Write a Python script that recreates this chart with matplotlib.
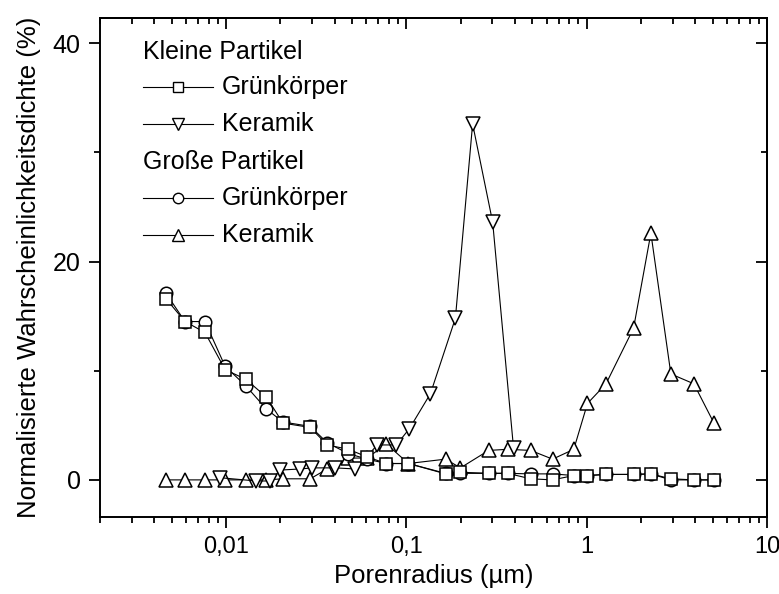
import matplotlib
matplotlib.use("Agg")
import matplotlib.pyplot as plt
from matplotlib.lines import Line2D
from matplotlib.ticker import FixedLocator, FuncFormatter, LogLocator, NullFormatter

plt.rcParams["font.family"] = ["Liberation Sans", "DejaVu Sans"]

# Porenradius (µm) der gemeinsamen Messpunkte
radius = [0.00464, 0.00592, 0.00764, 0.00988, 0.0129, 0.0167, 0.0207, 0.0293,
          0.0364, 0.0477, 0.0607, 0.0774, 0.1026, 0.165, 0.1995, 0.286, 0.364,
          0.489, 0.647, 0.848, 1.01, 1.28, 1.82, 2.27, 2.93, 3.93, 5.08]

# Kleine Partikel, Grünkörper
klein_gruen = [16.6, 14.5, 13.5, 10.1, 9.2, 7.6, 5.2, 4.8, 3.2, 2.8, 2.1, 1.5,
               1.5, 0.55, 0.7, 0.6, 0.6, 0.1, 0.0, 0.4, 0.4, 0.5, 0.5, 0.55,
               0.1, 0.0, 0.0]

# Große Partikel, Grünkörper
gross_gruen = [17.1, 14.5, 14.5, 10.4, 8.6, 6.5, 5.3, 4.9, 3.4, 2.4, 1.9, 1.5,
               1.5, 0.6, 0.6, 0.6, 0.6, 0.55, 0.55, 0.4, 0.4, 0.5, 0.5, 0.55,
               0.0, 0.0, 0.0]

# Große Partikel, Keramik
gross_keramik = [0.0, 0.0, 0.0, 0.0, 0.0, 0.0, 0.1, 0.1, 1.0, 2.0, 2.0, 3.3,
                 1.5, 1.9, 1.1, 2.7, 2.8, 2.7, 1.9, 2.8, 7.0, 8.8, 13.9, 22.6,
                 9.7, 8.8, 5.2]

# Kleine Partikel, Keramik (eigene Radienstufen)
radius_klein_keramik = [0.00926, 0.0147, 0.0176, 0.020, 0.0258, 0.0301, 0.0403,
                        0.0521, 0.069, 0.088, 0.104, 0.136, 0.187, 0.233,
                        0.301, 0.393]
klein_keramik = [0.2, -0.1, -0.1, 0.9, 1.0, 1.1, 1.1, 1.0, 3.2, 3.2, 4.7, 7.9,
                 14.8, 32.6, 23.6, 2.9]

x_ticks = [0.01, 0.1, 1, 10]
x_ticklabels = ["0,01", "0,1", "1", "10"]
y_ticks = [0, 20, 40]

fig = plt.figure(figsize=(7.79, 5.94), dpi=100)
ax = fig.add_axes([0.1284, 0.1296, 0.8562, 0.8401])

line_kw = dict(color="black", lw=0.8, markerfacecolor="white",
               markeredgecolor="black", markeredgewidth=1.1)

ax.plot(radius, gross_keramik, marker="^", ms=10.5, zorder=3, **line_kw)
ax.plot(radius_klein_keramik, klein_keramik, marker="v", ms=10.5, zorder=3, **line_kw)
ax.plot(radius, gross_gruen, marker="o", ms=9, zorder=4, **line_kw)
ax.plot(radius, klein_gruen, marker="s", ms=8.5, zorder=4, **line_kw)

ax.set_xscale("log")
ax.set_xlim(0.002, 10)
ax.set_ylim(-3.4, 42.3)

ax.xaxis.set_major_locator(FixedLocator(x_ticks))
ax.xaxis.set_major_formatter(FuncFormatter(
    lambda v, p: dict(zip(x_ticks, x_ticklabels)).get(v, "")))
ax.xaxis.set_minor_locator(LogLocator(base=10, subs=range(2, 10), numticks=20))
ax.xaxis.set_minor_formatter(NullFormatter())
ax.yaxis.set_major_locator(FixedLocator(y_ticks))
ax.yaxis.set_minor_locator(FixedLocator([10, 30]))

for s in ax.spines.values():
    s.set_linewidth(1.4)

ax.tick_params(axis="both", which="both", width=1.3)
ax.tick_params(axis="y", labelsize=18)
ax.tick_params(axis="x", labelsize=17)
ax.tick_params(axis="both", which="major", length=8, pad=6)
ax.tick_params(axis="both", which="minor", length=4.5)
ax.tick_params(axis="x", which="both", direction="out", bottom=True, top=False)
ax.tick_params(axis="y", which="both", direction="out", left=True, right=False)

# innen liegende Striche an oberer und rechter Achse
top = ax.secondary_xaxis("top")
top.xaxis.set_major_locator(FixedLocator(x_ticks))
top.xaxis.set_minor_locator(LogLocator(base=10, subs=range(2, 10), numticks=20))
top.xaxis.set_major_formatter(NullFormatter())
top.xaxis.set_minor_formatter(NullFormatter())
top.tick_params(which="both", direction="in", width=1.3)
top.tick_params(which="major", length=8)
top.tick_params(which="minor", length=4.5)
top.spines["top"].set_linewidth(1.4)

right = ax.secondary_yaxis("right")
right.yaxis.set_major_locator(FixedLocator(y_ticks))
right.yaxis.set_minor_locator(FixedLocator([10, 30]))
right.yaxis.set_major_formatter(NullFormatter())
right.tick_params(which="both", direction="in", width=1.3)
right.tick_params(which="major", length=8)
right.tick_params(which="minor", length=4.5)
right.spines["right"].set_linewidth(1.4)

ax.set_xlabel("Porenradius (µm)", fontsize=18.5, labelpad=4)
ax.set_ylabel("Normalisierte Wahrscheinlichkeitsdichte (%)", fontsize=18.5, labelpad=8)

# Legende mit Gruppenüberschriften
rows = [
    ("Kleine Partikel", None),
    ("Grünkörper", "s"),
    ("Keramik", "v"),
    ("Große Partikel", None),
    ("Grünkörper", "o"),
    ("Keramik", "^"),
]
row_y = [0.932, 0.862, 0.787, 0.711, 0.639, 0.565]
for (label, mk), y in zip(rows, row_y):
    if mk is None:
        ax.text(0.064, y, label, transform=ax.transAxes, fontsize=18,
                va="center", ha="left")
    else:
        ax.add_line(Line2D([0.064, 0.17], [y, y], transform=ax.transAxes,
                           color="black", lw=0.8))
        ax.add_line(Line2D([0.117], [y], transform=ax.transAxes, marker=mk,
                           ms=8.5 if mk in "v^" else 7.5, markerfacecolor="white",
                           markeredgecolor="black", markeredgewidth=1.0,
                           linestyle="none"))
        ax.text(0.183, y, label, transform=ax.transAxes, fontsize=18,
                va="center", ha="left")

fig.savefig("out.png", dpi=100)
